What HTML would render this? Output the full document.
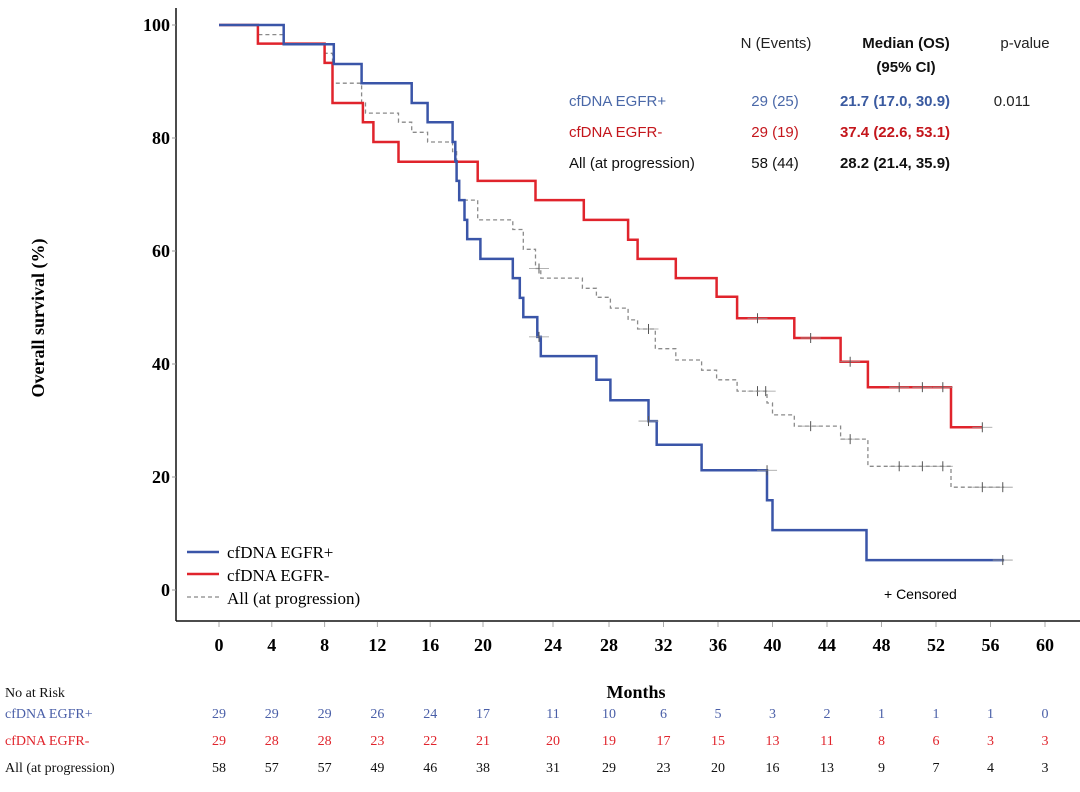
<!DOCTYPE html>
<html><head><meta charset="utf-8">
<style>
html,body{margin:0;padding:0;background:#fff;}
svg{display:block;}
.ser{font-family:"Liberation Serif",serif;}
.san{font-family:"Liberation Sans",sans-serif;}
</style></head>
<body>
<svg id="chart" width="1080" height="792" viewBox="0 0 1080 792" xmlns="http://www.w3.org/2000/svg">
<g id="axes"></g>
<g id="curves"></g>
<g id="risk"></g>
<text class="ser" transform="translate(44,318) rotate(-90)" text-anchor="middle" font-size="18" font-weight="bold">Overall survival (%)</text>
<text class="ser" x="636" y="698" text-anchor="middle" font-size="18" font-weight="bold">Months</text>
<g class="ser" font-size="17">
  <line x1="187" y1="552" x2="219" y2="552" stroke="#3a55a8" stroke-width="2.5"/>
  <text x="227" y="558">cfDNA EGFR+</text>
  <line x1="187" y1="574" x2="219" y2="574" stroke="#e0242c" stroke-width="2.5"/>
  <text x="227" y="581">cfDNA EGFR-</text>
  <line x1="187" y1="597" x2="219" y2="597" stroke="#888" stroke-width="1.2" stroke-dasharray="4,3"/>
  <text x="227" y="604">All (at progression)</text>
</g>
<text class="san" x="884" y="599" font-size="14">+ Censored</text>
<g class="san" font-size="15">
  <text x="776" y="48" text-anchor="middle" fill="#222">N (Events)</text>
  <text x="906" y="48" text-anchor="middle" font-weight="bold" fill="#111">Median (OS)</text>
  <text x="906" y="72" text-anchor="middle" font-weight="bold" fill="#111">(95% CI)</text>
  <text x="1025" y="48" text-anchor="middle" fill="#222">p-value</text>
  <text x="569" y="106" fill="#4a68a8">cfDNA EGFR+</text>
  <text x="775" y="106" text-anchor="middle" fill="#4a68a8">29 (25)</text>
  <text x="895" y="106" text-anchor="middle" font-weight="bold" fill="#3a5aa0">21.7 (17.0, 30.9)</text>
  <text x="1012" y="106" text-anchor="middle" fill="#222">0.011</text>
  <text x="569" y="137" fill="#c4161c">cfDNA EGFR-</text>
  <text x="775" y="137" text-anchor="middle" fill="#c4161c">29 (19)</text>
  <text x="895" y="137" text-anchor="middle" font-weight="bold" fill="#c4161c">37.4 (22.6, 53.1)</text>
  <text x="569" y="168" fill="#111">All (at progression)</text>
  <text x="775" y="168" text-anchor="middle" fill="#111">58 (44)</text>
  <text x="895" y="168" text-anchor="middle" font-weight="bold" fill="#111">28.2 (21.4, 35.9)</text>
</g>
</svg>
<script>
const xTicks = [0,4,8,12,16,20,24,28,32,36,40,44,48,52,56,60];
const yTicks = [0,20,40,60,80,100];
const posTimes = [4.9,8.7,10.8,14.6,15.8,17.7,17.9,18.0,18.2,18.6,18.8,19.8,21.7,22.1,22.3,23.1,23.3,27.1,28.1,30.9,31.5,34.8,39.6,40.0,46.9];
const posSurv = [96.6,93.1,89.7,86.2,82.8,79.3,75.9,72.4,69.0,65.5,62.1,58.6,55.2,51.7,48.3,44.8,41.4,37.2,33.6,29.9,25.7,21.2,15.9,10.6,5.3];
const posEnd = 57.0;
const posCensT = [23.2,30.9,39.6,56.9];
const posCensV = [44.8,29.9,21.2,5.3];
const negTimes = [2.95,8.0,8.6,10.9,11.7,13.6,19.6,23.0,26.2,29.4,30.1,32.9,35.9,37.4,41.6,45.0,47.0,53.1];
const negSurv = [96.7,93.3,86.2,82.8,79.3,75.8,72.4,69.0,65.5,62.0,58.6,55.2,51.9,48.1,44.6,40.4,35.9,28.8];
const negEnd = 55.4;
const negCensT = [38.9,42.8,45.7,49.3,51.0,52.5,55.4];
const negCensV = [48.1,44.6,40.4,35.9,35.9,35.9,28.8];
const allTimes = [2.95,4.9,8.0,8.6,10.8,11.1,13.6,14.6,15.8,17.7,18.0,18.2,19.6,21.7,22.3,23.0,23.3,26.1,27.1,28.1,29.4,30.1,31.4,32.9,34.8,35.9,37.4,39.6,40.0,41.6,45.0,47.0,53.1];
const allSurv = [98.3,96.6,95.0,89.7,86.2,84.4,82.8,81.0,79.3,77.6,72.4,69.0,65.5,63.8,60.3,56.9,55.2,53.4,51.8,49.9,47.8,46.2,42.7,40.7,38.9,37.2,35.2,33.1,31.0,29.0,26.7,21.9,18.2];
const allEnd = 57.0;
const allCensT = [23.2,30.9,38.9,39.5,42.8,45.7,49.3,51.0,52.5,55.4,56.9];
const allCensV = [56.9,46.2,35.2,35.2,29.0,26.7,21.9,21.9,21.9,18.2,18.2];
const riskPos = [29,29,29,26,24,17,11,10,6,5,3,2,1,1,1,0];
const riskNeg = [29,28,28,23,22,21,20,19,17,15,13,11,8,6,3,3];
const riskAll = [58,57,57,49,46,38,31,29,23,20,16,13,9,7,4,3];

// axis scale: piecewise-linear month axis (as in the reference figure)
const kM = [0,20,24,28,60], kP = [219,483,553,609,1045];
function X(m){for(let i=0;i<kM.length-1;i++){if(m<=kM[i+1]||i===kM.length-2){return kP[i]+(m-kM[i])*(kP[i+1]-kP[i])/(kM[i+1]-kM[i]);}}}
function Y(v){return 590-v*5.65;}
const NS='http://www.w3.org/2000/svg';
function mk(tag,attrs,parent){const e=document.createElementNS(NS,tag);for(const k in attrs)e.setAttribute(k,attrs[k]);parent.appendChild(e);return e;}
const axes=document.getElementById('axes'), curves=document.getElementById('curves'), risk=document.getElementById('risk');

let a=mk('line',{x1:176,y1:8,x2:176,y2:621,stroke:'#111','stroke-width':1.5},axes);


a=mk('line',{x1:176,y1:621,x2:1080,y2:621,stroke:'#111','stroke-width':1.5},axes);


yTicks.forEach(v=>{
  const t=mk('line',{x1:172,y1:Y(v),x2:176,y2:Y(v),stroke:'#999','stroke-width':1},axes);
  
  
  const l=mk('text',{x:170,y:Y(v)+6,'text-anchor':'end','font-size':18,'font-weight':'bold','class':'ser'},axes);
  l.textContent=v;
  
  
});
xTicks.forEach(m=>{
  const t=mk('line',{x1:X(m),y1:622,x2:X(m),y2:627,stroke:'#aaa','stroke-width':1},axes);
  
  
  const l=mk('text',{x:X(m),y:651,'text-anchor':'middle','font-size':18,'font-weight':'bold','class':'ser'},axes);
  l.textContent=m;
  
  
});
function stepPath(ts,vs,end){
  let d='M'+X(0)+','+Y(100);let cur=100;
  for(let i=0;i<ts.length;i++){d+=' H'+X(ts[i]).toFixed(1)+' V'+Y(vs[i]).toFixed(1);cur=vs[i];}
  d+=' H'+X(end).toFixed(1);return d;
}
function drawCurve(name,ts,vs,end,ct,cv,color,w,dash){
  const p=mk('path',{d:stepPath(ts,vs,end),fill:'none',stroke:color,'stroke-width':w},curves);
  if(dash)p.setAttribute('stroke-dasharray',dash);
  
  
  ct.forEach((t,i)=>{
    const h=mk('line',{x1:X(t)-10,y1:Y(cv[i]),x2:X(t)+10,y2:Y(cv[i]),stroke:'#999','stroke-width':0.8},curves);
    
    
    const c=mk('line',{x1:X(t),y1:Y(cv[i])-5,x2:X(t),y2:Y(cv[i])+5,stroke:'#555','stroke-width':1},curves);
    
    
  });
}
drawCurve('all',allTimes,allSurv,allEnd,allCensT,allCensV,'#8a8a8a',1.3,'4,3');
drawCurve('egfr-neg',negTimes,negSurv,negEnd,negCensT,negCensV,'#e0242c',2.5,null);
drawCurve('egfr-pos',posTimes,posSurv,posEnd,posCensT,posCensV,'#3a55a8',2.5,null);

const rl=[['No at Risk',697,'#111'],['cfDNA EGFR+',718,'#4a5fa8'],['cfDNA EGFR-',745,'#e0242c'],['All (at progression)',772,'#111']];
rl.forEach(r=>{
  const t=mk('text',{x:5,y:r[1],'font-size':14,fill:r[2],'class':'ser'},risk);
  t.textContent=r[0];
  
  
});
[[riskPos,718,'#4a5fa8'],[riskNeg,745,'#e0242c'],[riskAll,772,'#111']].forEach(row=>{
  row[0].forEach((n,i)=>{
    const t=mk('text',{x:X(xTicks[i]),y:row[1],'text-anchor':'middle','font-size':14,fill:row[2],'class':'ser'},risk);
    t.textContent=n;
    
    
  });
});
</script>
</body></html>
